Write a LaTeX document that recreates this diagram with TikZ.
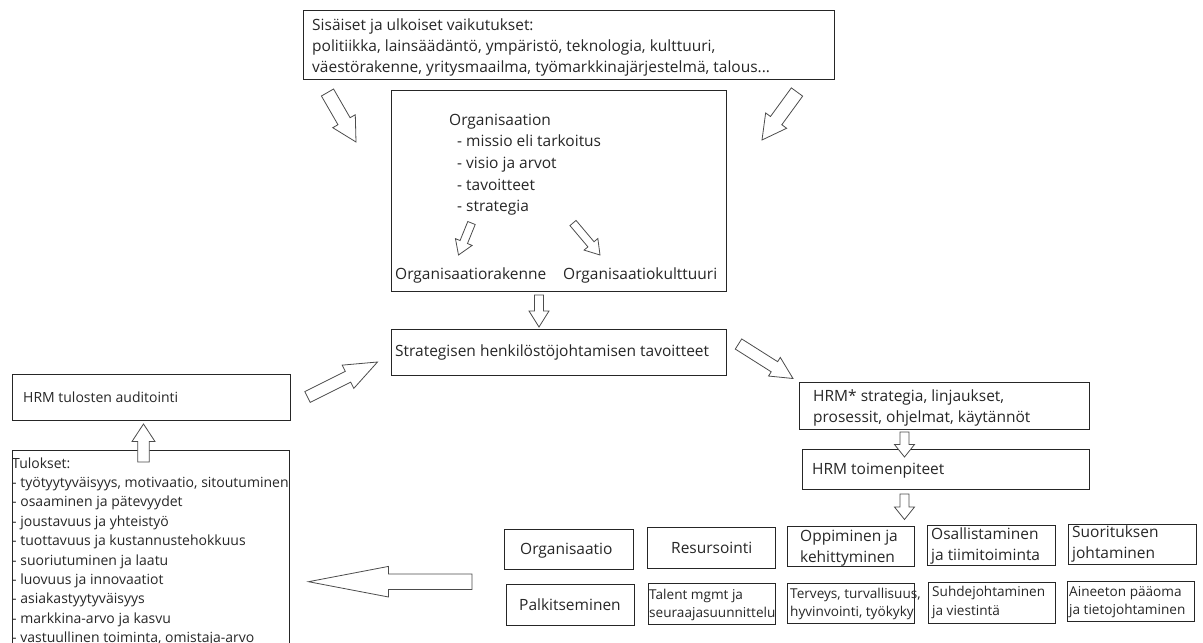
\documentclass[tikz,border=0pt]{standalone}
\usepackage{fontspec}
\setmainfont{Open Sans}
\usetikzlibrary{calc}

\newcommand{\fbig}{\fontsize{15.5}{21}\selectfont}
\newcommand{\forg}{\fontsize{15.5}{21.7}\selectfont}
\newcommand{\fmid}{\fontsize{14}{19.4}\selectfont}
\newcommand{\fsmall}{\fontsize{13.6}{18.2}\selectfont}

% block arrow: tail, tip, half shaft, half head, head length
\newcommand{\fatarrow}[5]{%
  \coordinate (fah) at ($(#2)!#5!(#1)$);
  \draw[fatarr] ($(#1)!#3!90:(#2)$) -- ($(fah)!#3!90:(#2)$) -- ($(fah)!#4!90:(#2)$)
    -- (#2) -- ($(fah)!#4!-90:(#2)$) -- ($(fah)!#3!-90:(#2)$) -- ($(#1)!#3!-90:(#2)$) -- cycle;
}

\tikzset{
  box/.style={draw=black!85, line width=1pt, anchor=north west, inner sep=0pt},
  txt/.style={anchor=west, inner sep=0pt, align=left, text=black!85, font=\fbig},
  fatarr/.style={draw=black!70, line width=0.8pt, fill=white, line join=miter},
}

\begin{document}
\begin{tikzpicture}[x=1pt, y=-1pt]
    \useasboundingbox (0,0) rectangle (1203,643);
    \clip (0,0) rectangle (1203,643);

    % Boxes
    \node[box, minimum width=531, minimum height=69] (infl) at (303,10) {};
    \node[box, minimum width=335.5, minimum height=201.5] (org) at (390.5,89.5) {};
    \node[box, minimum width=335, minimum height=46] (strat) at (391,329) {};
    \node[box, minimum width=290, minimum height=47.5] (hrmstr) at (799,381.5) {};
    \node[box, minimum width=287, minimum height=40] (hrmtoim) at (801.5,449) {};
    \node[box, minimum width=278, minimum height=46] (audit) at (11.5,373.5) {};
    \node[box, minimum width=277, minimum height=230] (tulos) at (11.5,449.5) {};

    \foreach \n/\x/\y/\w/\h in {
        borg/504/529/128.5/39.5,
        bres/646.5/526.5/128/41,
        bopp/787/525.5/127/40.5,
        bosa/926.5/524.5/128/40.5,
        bsuo/1068/523.5/128/40.5,
        bpal/506/584/127.5/40.5,
        btal/647.5/582.5/127/41,
        bter/787/582.5/126.5/40,
        bsuh/927.5/581.5/127/41,
        bain/1067/580.5/126.5/40.5
    } {
        \node[box, minimum width=\w, minimum height=\h] (\n) at (\x,\y) {};
    }

    % Texts
    \node[txt] (inflt) at (312,47) {Sisäiset ja ulkoiset vaikutukset:\\
        politiikka, lainsäädäntö, ympäristö, teknologia, kulttuuri,\\
        väestörakenne, yritysmaailma, työmarkkinajärjestelmä, talous...};
    \node[txt, font=\forg] (orgt) at (449,164.7) {Organisaation\\
        \hspace*{8pt}- missio eli tarkoitus\\
        \hspace*{8pt}- visio ja arvot\\
        \hspace*{8pt}- tavoitteet\\
        \hspace*{8pt}- strategia};
    \node[txt] (orak) at (395,275) {Organisaatiorakenne};
    \node[txt] (okul) at (563,275) {Organisaatiokulttuuri};
    \node[txt] (stratt) at (395,352) {Strategisen henkilöstöjohtamisen tavoitteet};
    \node[txt] (hrmstrt) at (813,408.3) {HRM* strategia, linjaukset,\\prosessit, ohjelmat, käytännöt};
    \node[txt] (hrmtoimt) at (812,471) {HRM toimenpiteet};
    \node[txt, font=\fmid] (auditt) at (23,397.7) {HRM tulosten auditointi};
    \node[txt, font=\fmid, anchor=north west] (tulost) at (12,457.2) {Tulokset:\\
        - työtyytyväisyys, motivaatio, sitoutuminen\\
        - osaaminen ja pätevyydet\\
        - joustavuus ja yhteistyö\\
        - tuottavuus ja kustannustehokkuus\\
        - suoriutuminen ja laatu\\
        - luovuus ja innovaatiot\\
        - asiakastyytyväisyys\\
        - markkina-arvo ja kasvu\\
        - vastuullinen toiminta, omistaja-arvo};

    \node[txt] (borgt) at (520,550.5) {Organisaatio};
    \node[txt] (brest) at (671,547.7) {Resursointi};
    \node[txt] (boppt) at (800,547.8) {Oppiminen ja\\kehittyminen};
    \node[txt] (bosat) at (931,545.5) {Osallistaminen\\ja tiimitoiminta};
    \node[txt] (bsuot) at (1072,544.2) {Suorituksen\\johtaminen};
    \node[txt] (bpalt) at (519,604.3) {Palkitseminen};
    \node[txt, font=\fsmall] (btalt) at (649,605) {Talent mgmt ja\\seuraajasuunnittelu};
    \node[txt, font=\fsmall] (btert) at (790,604.2) {Terveys, turvallisuus,\\hyvinvointi, työkyky};
    \node[txt, font=\fsmall] (bsuht) at (932,602.5) {Suhdejohtaminen\\ja viestintä};
    \node[txt, font=\fsmall] (baint) at (1069,602.5) {Aineeton pääoma\\ja tietojohtaminen};

    % Arrow ends
    \coordinate (a1s) at (327.5,92.5);  \coordinate (a1e) at (356,142);
    \coordinate (a2s) at (797,92);      \coordinate (a2e) at (762,140);
    \coordinate (a3s) at (471.5,223);   \coordinate (a3e) at (458.5,255);
    \coordinate (a4s) at (573,223);     \coordinate (a4e) at (600,255);
    \coordinate (a5s) at (539,295);     \coordinate (a5e) at (539,327);
    \coordinate (a6s) at (738.5,344);   \coordinate (a6e) at (793,378.5);
    \coordinate (a7s) at (307.5,397);   \coordinate (a7e) at (377.5,362);
    \coordinate (a8s) at (143.5,462);   \coordinate (a8e) at (143.5,424);
    \coordinate (a9s) at (904.5,432);   \coordinate (a9e) at (904.5,457);
    \coordinate (a10s) at (904.5,494);  \coordinate (a10e) at (904.5,519.5);
    \coordinate (a11s) at (472,581.7);  \coordinate (a11e) at (308.5,581.7);

    % Block arrows
    \fatarrow{a1s}{a1e}{7pt}{13pt}{24pt}
    \fatarrow{a2s}{a2e}{7pt}{13pt}{24pt}
    \fatarrow{a3s}{a3e}{4pt}{9pt}{14pt}
    \fatarrow{a4s}{a4e}{4pt}{9pt}{14pt}
    \fatarrow{a5s}{a5e}{4.5pt}{10pt}{16pt}
    \fatarrow{a6s}{a6e}{6pt}{11pt}{22pt}
    \fatarrow{a7s}{a7e}{6pt}{13pt}{33pt}
    \fatarrow{a8s}{a8e}{5.8pt}{11.5pt}{17.5pt}
    \fatarrow{a9s}{a9e}{4.5pt}{10pt}{12.5pt}
    \fatarrow{a10s}{a10e}{4.5pt}{10pt}{12.5pt}
    \fatarrow{a11s}{a11e}{7.7pt}{15.3pt}{80pt}
\end{tikzpicture}
\end{document}
